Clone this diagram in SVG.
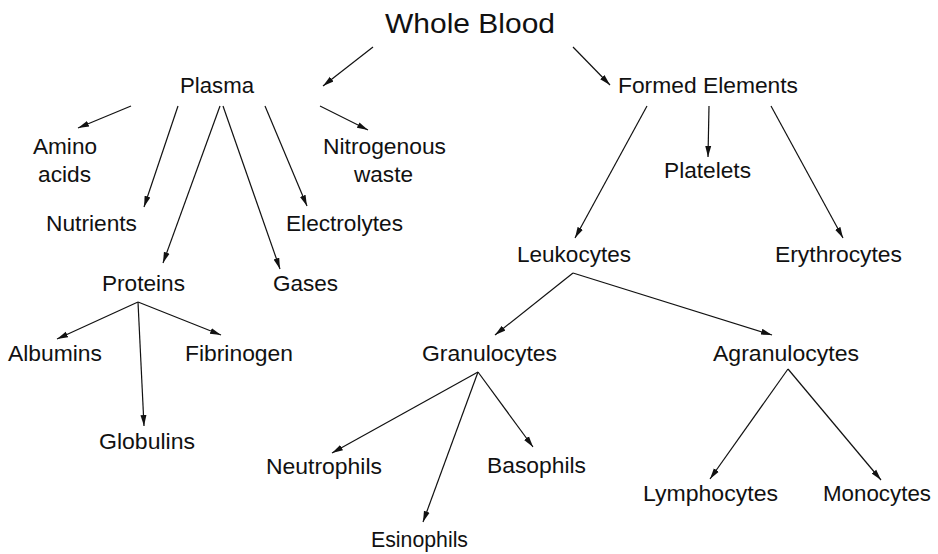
<svg xmlns="http://www.w3.org/2000/svg" width="938" height="554" viewBox="0 0 938 554">
<style>
text{font-family:"Liberation Sans",Arial,Helvetica,sans-serif;font-size:22.5px;fill:#111}
.title{font-size:27px}
.conn line{stroke:#111;stroke-width:1.2;fill:none;marker-end:url(#ah)}
</style>
<defs>
<marker id="ah" markerUnits="userSpaceOnUse" markerWidth="12" markerHeight="8" viewBox="0 0 12 8" refX="11" refY="4" orient="auto">
<path d="M0,1 L11,4 L0,7 Z" fill="#111"/>
</marker>
</defs>
<rect width="938" height="554" fill="#fff"/>
<g class="conn" id="connectors">
<line x1="373" y1="47" x2="323" y2="86"/>
<line x1="573" y1="47" x2="610" y2="85"/>
<line x1="131" y1="106" x2="78" y2="128"/>
<line x1="178" y1="106" x2="144" y2="207"/>
<line x1="220" y1="106" x2="163" y2="263"/>
<line x1="223" y1="106" x2="280" y2="269"/>
<line x1="265" y1="106" x2="307" y2="206"/>
<line x1="320" y1="106" x2="368" y2="130"/>
<line x1="138" y1="302" x2="57" y2="339"/>
<line x1="138" y1="302" x2="144" y2="426"/>
<line x1="138" y1="302" x2="221" y2="335"/>
<line x1="647" y1="106" x2="575" y2="238"/>
<line x1="709" y1="106" x2="708" y2="157"/>
<line x1="771" y1="106" x2="843" y2="238"/>
<line x1="573" y1="273" x2="495" y2="335"/>
<line x1="573" y1="273" x2="772" y2="335"/>
<line x1="478" y1="372" x2="332" y2="453"/>
<line x1="478" y1="372" x2="423" y2="522"/>
<line x1="478" y1="372" x2="533" y2="447"/>
<line x1="788" y1="369" x2="710" y2="479"/>
<line x1="788" y1="369" x2="881" y2="480"/>
</g>
<g id="whole-blood"><text class="title" x="385" y="33" textLength="170" lengthAdjust="spacingAndGlyphs">Whole Blood</text></g>
<g id="plasma"><text x="180" y="93" textLength="74" lengthAdjust="spacingAndGlyphs">Plasma</text></g>
<g id="formed-elements"><text x="618" y="93" textLength="180" lengthAdjust="spacingAndGlyphs">Formed Elements</text></g>
<g id="amino-acids"><text x="33" y="154" textLength="64" lengthAdjust="spacingAndGlyphs">Amino</text><text x="38" y="182" textLength="53" lengthAdjust="spacingAndGlyphs">acids</text></g>
<g id="nitrogenous-waste"><text x="323" y="154" textLength="123" lengthAdjust="spacingAndGlyphs">Nitrogenous</text><text x="354" y="182" textLength="59" lengthAdjust="spacingAndGlyphs">waste</text></g>
<g id="nutrients"><text x="46" y="231" textLength="91" lengthAdjust="spacingAndGlyphs">Nutrients</text></g>
<g id="electrolytes"><text x="286" y="231" textLength="117" lengthAdjust="spacingAndGlyphs">Electrolytes</text></g>
<g id="proteins"><text x="102" y="291" textLength="83" lengthAdjust="spacingAndGlyphs">Proteins</text></g>
<g id="gases"><text x="273" y="291" textLength="65" lengthAdjust="spacingAndGlyphs">Gases</text></g>
<g id="albumins"><text x="8" y="361" textLength="94" lengthAdjust="spacingAndGlyphs">Albumins</text></g>
<g id="fibrinogen"><text x="185" y="361" textLength="108" lengthAdjust="spacingAndGlyphs">Fibrinogen</text></g>
<g id="globulins"><text x="99" y="449" textLength="96" lengthAdjust="spacingAndGlyphs">Globulins</text></g>
<g id="platelets"><text x="664" y="178" textLength="87" lengthAdjust="spacingAndGlyphs">Platelets</text></g>
<g id="leukocytes"><text x="517" y="262" textLength="114" lengthAdjust="spacingAndGlyphs">Leukocytes</text></g>
<g id="erythrocytes"><text x="775" y="262" textLength="127" lengthAdjust="spacingAndGlyphs">Erythrocytes</text></g>
<g id="granulocytes"><text x="422" y="361" textLength="135" lengthAdjust="spacingAndGlyphs">Granulocytes</text></g>
<g id="agranulocytes"><text x="713" y="361" textLength="146" lengthAdjust="spacingAndGlyphs">Agranulocytes</text></g>
<g id="neutrophils"><text x="266" y="474" textLength="116" lengthAdjust="spacingAndGlyphs">Neutrophils</text></g>
<g id="basophils"><text x="487" y="473" textLength="99" lengthAdjust="spacingAndGlyphs">Basophils</text></g>
<g id="esinophils"><text x="371" y="547" textLength="97" lengthAdjust="spacingAndGlyphs">Esinophils</text></g>
<g id="lymphocytes"><text x="643" y="501" textLength="135" lengthAdjust="spacingAndGlyphs">Lymphocytes</text></g>
<g id="monocytes"><text x="823" y="501" textLength="108" lengthAdjust="spacingAndGlyphs">Monocytes</text></g>
</svg>
